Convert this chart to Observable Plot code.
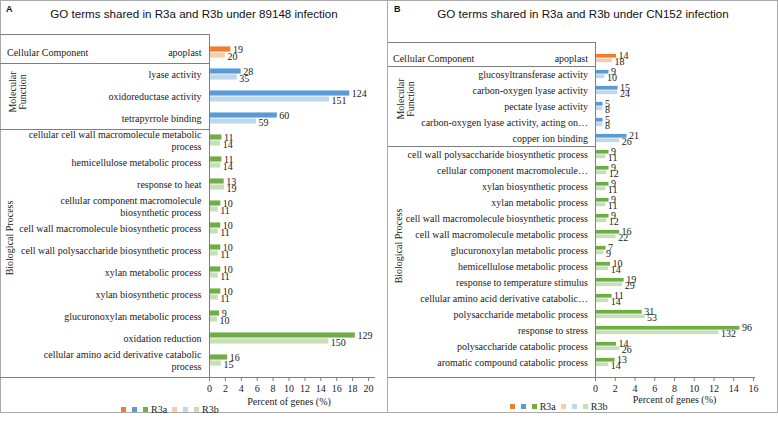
<!DOCTYPE html>
<html>
<head>
<meta charset="utf-8">
<script src="https://cdn.jsdelivr.net/npm/d3@7"></script>
<script src="https://cdn.jsdelivr.net/npm/@observablehq/plot@0.6"></script>
<style>
html, body { margin: 0; padding: 0; background: #fff; }
#root { position: relative; width: 778px; height: 423px; overflow: hidden; background: #fff; }
.panel { position: absolute; top: 0; height: 413px; }
.frame { position: absolute; left: 0; top: 0; right: 0; bottom: 0; box-sizing: border-box; border: 1px solid #a9a9a9; }
.panel svg { position: absolute; left: 0; top: 0; }
.letter { position: absolute; left: 6px; top: 4px; font: bold 9px "Liberation Sans", Arial, sans-serif; line-height: 11px; color: #111; }
.title { position: absolute; left: 0; right: 0; top: 7px; text-align: center; font: 11.6px "Liberation Sans", Arial, sans-serif; line-height: 14px; color: #111; }
.legend { position: absolute; display: flex; align-items: center; height: 12px; font-family: "Liberation Serif", "DejaVu Serif", "Times New Roman", serif; font-size: 10px; color: #1a1a1a; white-space: nowrap; }
.legend .sw { display: inline-block; width: 5px; height: 5px; margin-right: 6px; }
.legend .sw.last { margin-right: 3px; }
.legend .lab { margin-right: 5px; }
</style>
</head>
<body>
<div id="root"></div>
<script>
// ---------- data ----------
const groupKeys = ["CC", "MF", "BP"];
const groupTitles = ["Cellular Component", "Molecular\nFunction", "Biological Process"];
const r3aColors = ["#ED7D31", "#5B9BD5", "#70AD47"];
const r3bColors = ["#F8CBAD", "#BDD7EE", "#C5E0B4"];
const seriesNames = ["R3a", "R3b"];
const axisTitle = "Percent of genes (%)";

// Panel A
const titleA = "GO terms shared in R3a and R3b under 89148 infection";
const catsA = [
  "apoplast",
  "lyase activity",
  "oxidoreductase activity",
  "tetrapyrrole binding",
  "cellular cell wall macromolecule metabolic\nprocess",
  "hemicellulose metabolic process",
  "response to heat",
  "cellular component macromolecule\nbiosynthetic process",
  "cell wall macromolecule biosynthetic process",
  "cell wall polysaccharide biosynthetic process",
  "xylan metabolic process",
  "xylan biosynthetic process",
  "glucuronoxylan metabolic process",
  "oxidation reduction",
  "cellular amino acid derivative catabolic\nprocess"
];
const groupsA = ["CC", "MF", "MF", "MF", "BP", "BP", "BP", "BP", "BP", "BP", "BP", "BP", "BP", "BP", "BP"];
const r3aCountA = [19, 28, 124, 60, 11, 11, 13, 10, 10, 10, 10, 10, 9, 129, 16];
const r3bCountA = [20, 35, 151, 59, 14, 14, 19, 11, 11, 11, 11, 11, 10, 150, 15];
const r3aPctA = [2.70, 3.98, 17.64, 8.53, 1.56, 1.56, 1.85, 1.42, 1.42, 1.42, 1.42, 1.42, 1.28, 18.35, 2.28];
const r3bPctA = [2.00, 3.50, 15.10, 5.90, 1.40, 1.40, 1.90, 1.10, 1.10, 1.10, 1.10, 1.10, 1.00, 15.00, 1.50];
const ticksA = [0, 2, 4, 6, 8, 10, 12, 14, 16, 18, 20];

// Panel B
const titleB = "GO terms shared in R3a and R3b under CN152 infection";
const catsB = [
  "apoplast",
  "glucosyltransferase activity",
  "carbon-oxygen lyase activity",
  "pectate lyase activity",
  "carbon-oxygen lyase activity, acting on…",
  "copper ion binding",
  "cell wall polysaccharide biosynthetic process",
  "cellular component macromolecule…",
  "xylan biosynthetic process",
  "xylan metabolic process",
  "cell wall macromolecule biosynthetic process",
  "cell wall macromolecule metabolic process",
  "glucuronoxylan metabolic process",
  "hemicellulose metabolic process",
  "response to temperature stimulus",
  "cellular amino acid derivative catabolic…",
  "polysaccharide metabolic process",
  "response to stress",
  "polysaccharide catabolic process",
  "aromatic compound catabolic process"
];
const groupsB = ["CC", "MF", "MF", "MF", "MF", "MF", "BP", "BP", "BP", "BP", "BP", "BP", "BP", "BP", "BP", "BP", "BP", "BP", "BP", "BP"];
const r3aCountB = [14, 9, 15, 5, 5, 21, 9, 9, 9, 9, 9, 16, 7, 10, 19, 11, 31, 96, 14, 13];
const r3bCountB = [18, 10, 24, 8, 8, 26, 11, 12, 11, 11, 12, 22, 9, 14, 29, 14, 53, 132, 26, 14];
const r3aPctB = [2.13, 1.37, 2.29, 0.76, 0.76, 3.20, 1.37, 1.37, 1.37, 1.37, 1.37, 2.44, 1.07, 1.52, 2.90, 1.68, 4.73, 14.63, 2.13, 1.98];
const r3bPctB = [1.71, 0.95, 2.27, 0.76, 0.76, 2.46, 1.04, 1.14, 1.04, 1.04, 1.14, 2.09, 0.85, 1.33, 2.75, 1.33, 5.02, 12.51, 2.46, 1.33];
const ticksB = [0, 2, 4, 6, 8, 10, 12, 14, 16];

// ---------- drawing ----------
const serif = "Liberation Serif, DejaVu Serif, Times New Roman, serif";
const lineColor = "#7f7f7f";
const textColor = "#1a1a1a";
const root = document.getElementById("root");

function makePanel(cfg) {
  const panel = document.createElement("div");
  panel.className = "panel";
  panel.style.left = cfg.left + "px";
  panel.style.width = cfg.width + "px";
  root.appendChild(panel);

  const frame = document.createElement("div");
  frame.className = "frame";
  if (cfg.noLeftBorder) frame.style.borderLeft = "none";
  panel.appendChild(frame);

  const n = cfg.cats.length;
  const step = (cfg.height - cfg.mt - cfg.mb) / n;
  const gi = g => groupKeys.indexOf(g);
  const data = cfg.cats.map((c, i) => ({
    cat: c, g: cfg.groups[i], a: cfg.pa[i], b: cfg.pb[i], na: cfg.ca[i], nb: cfg.cb[i]
  }));

  const svg = Plot.plot({
    width: cfg.width,
    height: cfg.height,
    marginTop: cfg.mt,
    marginBottom: cfg.mb,
    marginLeft: cfg.ml,
    marginRight: cfg.mr,
    x: {domain: [0, cfg.xmax]},
    y: {domain: cfg.cats, padding: 0, axis: null},
    color: {type: "identity"},
    style: {fontSize: "10px", color: textColor, background: "transparent", overflow: "visible"},
    marks: [
      Plot.barX(data, {y: "cat", x: "a", fill: d => r3aColors[gi(d.g)], insetTop: step / 2 - cfg.bh, insetBottom: step / 2}),
      Plot.barX(data, {y: "cat", x: "b", fill: d => r3bColors[gi(d.g)], insetTop: step / 2, insetBottom: step / 2 - cfg.bh}),
      Plot.ruleX([0], {stroke: lineColor}),
      Plot.axisX(cfg.ticks, {tickSize: 4, tickPadding: 3, label: null, stroke: lineColor, fill: textColor, fontSize: 10}),
      Plot.text(data, {x: "a", y: "cat", text: d => String(d.na), textAnchor: "start", dx: 2, dy: cfg.dyA, fill: textColor}),
      Plot.text(data, {x: "b", y: "cat", text: d => String(d.nb), textAnchor: "start", dx: 2, dy: cfg.dyB, fill: textColor}),
      Plot.text(data, {y: "cat", text: "cat", frameAnchor: "left", textAnchor: "end", dx: -cfg.labelGap, lineHeight: 1.16, fill: textColor}),
      Plot.text([axisTitle], {text: d => d, frameAnchor: "bottom", dy: cfg.titleDy, fill: textColor})
    ]
  });
  svg.style.fontFamily = serif;
  svg.setAttribute("font-family", serif);
  d3.select(svg).selectAll("text, g").attr("font-family", null);
  panel.appendChild(svg);

  // table lines & group labels, placed with the plot's own scales
  const ys = svg.scale("y");
  const xs = svg.scale("x");
  const x0 = xs.apply(0);
  const top = ys.range[0], bottom = ys.range[1];
  const s = d3.select(svg);
  const gl = s.append("g").attr("stroke", lineColor).attr("stroke-width", 1);
  const hline = (y, x1, x2) => gl.append("line")
    .attr("x1", x1).attr("x2", x2)
    .attr("y1", Math.round(y) + 0.5).attr("y2", Math.round(y) + 0.5);
  hline(top, 0, x0);
  for (let i = 1; i < n; i++) {
    if (cfg.groups[i] !== cfg.groups[i - 1]) hline(ys.apply(cfg.cats[i]), 0, x0);
  }
  hline(bottom, 0, xs.apply(cfg.xmax) + cfg.axisExt);

  const gt = s.append("g").attr("font-size", 10).attr("fill", textColor);
  groupKeys.forEach((k, j) => {
    const idx = cfg.groups.map((g, i) => g === k ? i : -1).filter(i => i >= 0);
    if (!idx.length) return;
    const y1 = ys.apply(cfg.cats[idx[0]]);
    const y2 = ys.apply(cfg.cats[idx[idx.length - 1]]) + ys.bandwidth;
    const cy = (y1 + y2) / 2;
    const lines = groupTitles[j].split("\n");
    if (k === "CC") {
      gt.append("text").attr("x", cfg.ccX).attr("y", cy).attr("dy", "0.35em")
        .attr("text-anchor", "start").text(lines[0]);
    } else {
      const off = k === "MF" ? cfg.mfOff : cfg.bpOff;
      lines.forEach((ln, li) => {
        const xx = (k === "MF" ? cfg.mfX : cfg.bpX) + li * 10.5;
        gt.append("text")
          .attr("transform", `translate(${xx},${cy + off}) rotate(-90)`)
          .attr("text-anchor", "middle")
          .attr("dy", "0.35em")
          .text(ln);
      });
    }
  });

  // letter, title
  const letter = document.createElement("div");
  letter.className = "letter";
  letter.textContent = cfg.letter;
  panel.appendChild(letter);
  const title = document.createElement("div");
  title.className = "title";
  title.textContent = cfg.title;
  panel.appendChild(title);

  // legend
  const lg = document.createElement("div");
  lg.className = "legend";
  lg.style.left = cfg.legendX + "px";
  lg.style.top = cfg.legendY + "px";
  [r3aColors, r3bColors].forEach((cols, si) => {
    cols.forEach((c, ci) => {
      const sw = document.createElement("span");
      sw.className = "sw" + (ci === cols.length - 1 ? " last" : "");
      sw.style.background = c;
      lg.appendChild(sw);
    });
    const lab = document.createElement("span");
    lab.className = "lab";
    lab.textContent = seriesNames[si];
    lg.appendChild(lab);
  });
  panel.appendChild(lg);
}

makePanel({
  letter: "A", title: titleA, left: 0, width: 388, height: 413,
  mt: 34, mb: 36, ml: 209, mr: 20, xmax: 20, ticks: ticksA,
  cats: catsA, groups: groupsA, pa: r3aPctA, pb: r3bPctA, ca: r3aCountA, cb: r3bCountA,
  bh: 6, dyA: -3, dyB: 4, labelGap: 8, titleDy: 27, axisExt: 7,
  ccX: 7, mfX: 12, bpX: 9, mfOff: -4, bpOff: -12,
  legendX: 121, legendY: 403
});

makePanel({
  letter: "B", title: titleB, left: 388, width: 390, height: 413, noLeftBorder: true,
  mt: 42, mb: 36, ml: 207, mr: 25, xmax: 16, ticks: ticksB,
  cats: catsB, groups: groupsB, pa: r3aPctB, pb: r3bPctB, ca: r3aCountB, cb: r3bCountB,
  bh: 4.5, dyA: -2.5, dyB: 3, labelGap: 7.5, titleDy: 25, axisExt: 2,
  ccX: 5, mfX: 12, bpX: 10, mfOff: -7, bpOff: -12,
  legendX: 121.7, legendY: 400.5
});
</script>
</body>
</html>
